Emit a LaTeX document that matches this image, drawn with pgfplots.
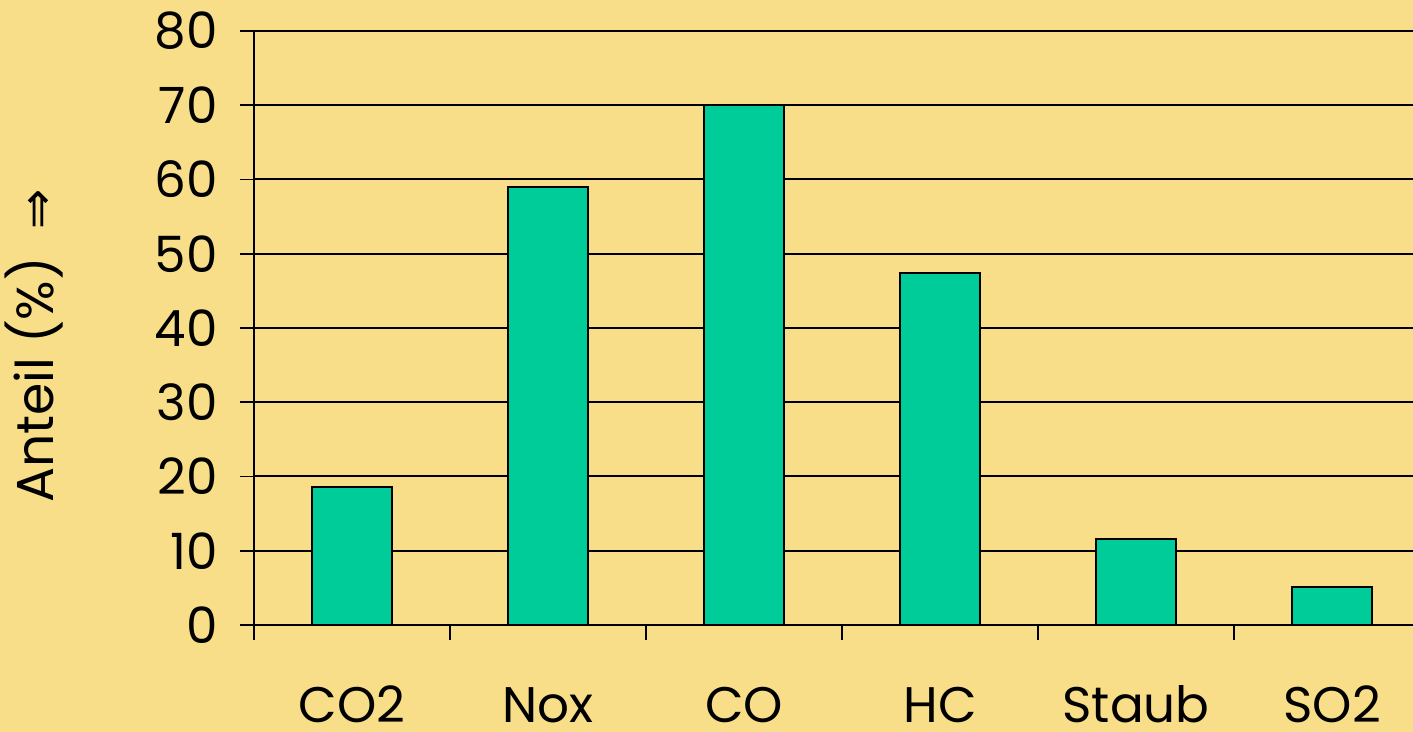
\documentclass[border=0pt]{standalone}
\usepackage{pgfplots}
\pgfplotsset{compat=1.18}
\usepackage{fontspec}
\setmainfont{Poppins}
\newfontfamily\arrowfont{DejaVu Sans}
\definecolor{bg}{HTML}{F8DE88}
\definecolor{barc}{HTML}{00CC99}
\begin{document}
\begin{tikzpicture}
\fill[bg] (0,0) rectangle (706.5pt,366pt);
\begin{axis}[
  at={(127pt,53.5pt)}, anchor=south west,
  scale only axis, width=579.5pt, height=297pt,
  xmin=-0.5, xmax=5.413, ymin=0, ymax=80,
  clip=false,
  axis x line*=bottom, axis y line*=left,
  axis line style={line width=1.3pt, -},
  tick align=outside,
  ytick={0,10,...,80},
  ymajorgrids, grid style={black, line width=1pt},
  xtick={0,...,5}, xticklabels={CO2,Nox,CO,HC,Staub,SO2},
  minor xtick={-0.5,0.5,...,4.5},
  major x tick style={draw=none},
  minor x tick style={black, line width=0.9pt},
  major y tick style={black, line width=0.9pt},
  minor tick length=7.5pt, major tick length=7pt,
  xticklabel style={anchor=base, inner sep=0pt, yshift=-42pt},
  yticklabel style={inner sep=0pt, xshift=-11pt},
  tick label style={font=\fontsize{25}{29}\selectfont},
  /pgf/number format/assume math mode=true,
]
\addplot[ybar, bar width=40pt, fill=barc, draw=black, line width=0.8pt]
  coordinates {(0,18.6) (1,59.0) (2,70.0) (3,47.4) (4,11.6) (5,5.1)};
\end{axis}
\node[rotate=90, anchor=center, font=\fontsize{26}{30}\selectfont] at (17pt,193pt) {Anteil (\%)\hspace{14pt}{\arrowfont\fontsize{24}{28}\selectfont ⇒}};
\pgfresetboundingbox
\useasboundingbox (0,0) rectangle (706.5pt,366pt);
\end{tikzpicture}
\end{document}
